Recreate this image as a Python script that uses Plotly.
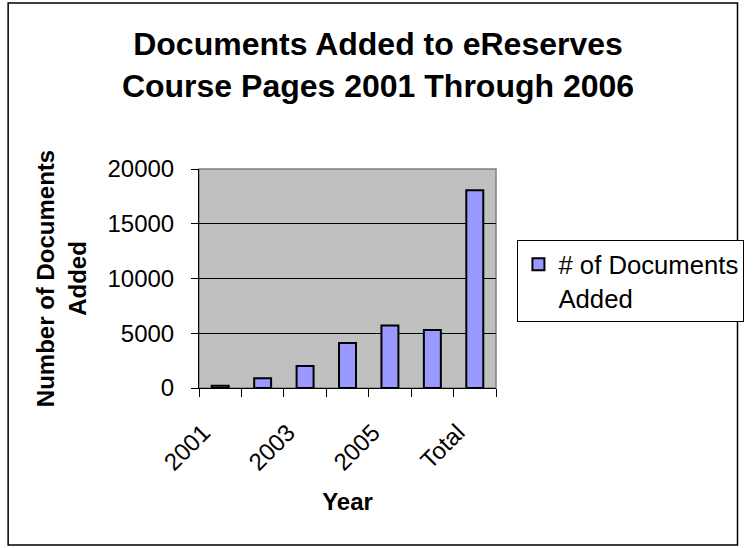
import plotly.graph_objects as go

# ---- data ----
categories = ["2001", "2002", "2003", "2004", "2005", "2006", "Total"]
documents_added = [200, 900, 2000, 4100, 5700, 5300, 18050]
tick_labels = ["2001", "", "2003", "", "2005", "", "Total"]
y_ticks = [0, 5000, 10000, 15000, 20000]
y_tick_labels = ["0", "5000", "10000", "15000", "20000"]
series_name = "# of Documents<br>Added"
title_text = "Documents Added to eReserves<br>Course Pages 2001 Through 2006"
y_title = "Number of Documents<br>Added"
x_title = "Year"

# ---- layout constants (pixels) ----
W, H = 756, 548
PL, PR, PT, PB = 199, 504, 169, 388
FONT = "Arial, Liberation Sans, sans-serif"

pw, ph = PR - PL, PB - PT
def px_x(x):
    return (x - PL) / pw
def px_y(y):
    return (PB - y) / ph

fig = go.Figure()
fig.add_trace(go.Bar(
    x=categories, y=documents_added, name=series_name,
    marker=dict(color="#9999FF", line=dict(color="black", width=2)),
    showlegend=True,
))

fig.update_layout(
    width=W, height=H,
    margin=dict(l=PL, r=W - PR, t=PT, b=H - PB, pad=0),
    paper_bgcolor="white",
    plot_bgcolor="#C0C0C0",
    bargap=0.6,
    font=dict(family=FONT, size=24, color="black"),
    title=dict(text="<b>" + title_text + "</b>", x=0.5, xref="container",
               xanchor="center", y=1 - 55 / H, yref="container", yanchor="top",
               font=dict(size=32, family=FONT, color="black")),
    showlegend=True,
    legend=dict(x=px_x(526), y=px_y(240), xanchor="left", yanchor="top",
                bgcolor="white", bordercolor="black", borderwidth=1,
                font=dict(size=25.7, family=FONT), valign="top"),
    xaxis=dict(type="category", tickmode="array", tickvals=categories,
               ticktext=tick_labels, tickangle=-45, tickson="boundaries",
               ticklabelstandoff=20, ticklabelshift=-17,
               ticks="outside", ticklen=8, tickcolor="black", tickwidth=1,
               showline=True, linecolor="black", linewidth=1,
               showgrid=False, automargin=False,
               title=dict(text="<b>" + x_title + "</b>", standoff=18,
                          font=dict(size=24, family=FONT))),
    yaxis=dict(range=[0, 20000], tickmode="array", tickvals=y_ticks,
               ticktext=y_tick_labels, ticklabelstandoff=12,
               ticks="outside", ticklen=7, tickcolor="black", tickwidth=1,
               showline=True, linecolor="black", linewidth=1,
               showgrid=True, gridcolor="black", gridwidth=1,
               zeroline=False, automargin=False,
               title=dict(text="<b>" + y_title + "</b>", standoff=14,
                          font=dict(size=24, family=FONT))),
)

# plot-area border (gray top/right edge)
fig.add_shape(type="rect", xref="paper", yref="paper", x0=0, y0=0, x1=1, y1=1,
              line=dict(color="#808080", width=1.5), layer="between")
# outer chart frame
fig.add_shape(type="rect", xref="paper", yref="paper",
              x0=px_x(3), x1=px_x(752), y0=px_y(545), y1=px_y(3),
              line=dict(color="black", width=1.5), layer="above")

fig.write_html("out.html", config={"displayModeBar": False},
               post_script="document.body.style.margin='0';"
                           "document.body.style.overflow='hidden';")
